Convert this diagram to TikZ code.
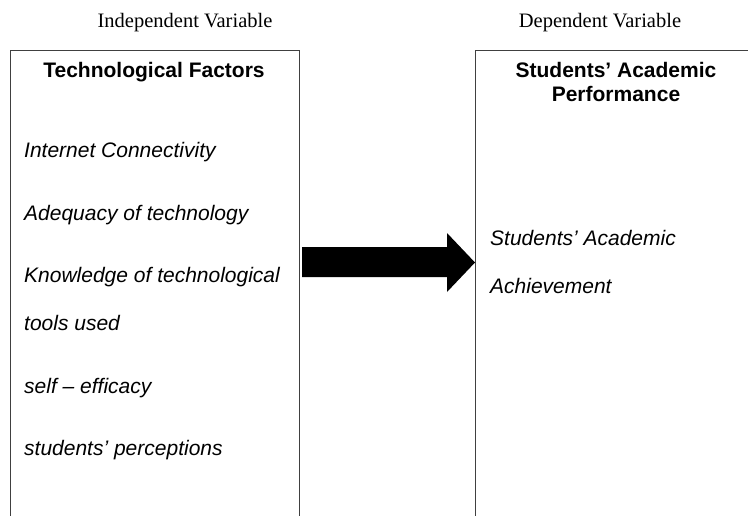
\documentclass[tikz,border=0pt]{standalone}
\usepackage{fontspec}
\setmainfont{Liberation Sans}
\newfontfamily\serifface{Liberation Serif}
\begin{document}
\begin{tikzpicture}[x=1pt,y=-1pt,
  boxline/.style={draw=black!75,line width=1pt},
  heading/.style={font=\serifface\fontsize{20.5}{24}\selectfont,anchor=base,inner sep=0pt},
  title/.style={font=\bfseries\fontsize{21}{24}\selectfont,anchor=base,inner sep=0pt,align=center},
  item/.style={font=\itshape\fontsize{21}{24}\selectfont,anchor=base west,inner sep=0pt},
  bigarrow/.style={fill=black,draw=none}]
\useasboundingbox (0,0) rectangle (748,515);
\fill[white] (0,0) rectangle (748,515);
% headings
\node[heading] (iv) at (185,27) {Independent Variable};
\node[heading] (dv) at (600,27) {Dependent Variable};
% boxes
\coordinate (lbl) at (10,520);
\coordinate (ltl) at (10,50);
\coordinate (ltr) at (299,50);
\coordinate (lbr) at (299,520);
\draw[boxline] (lbl) -- (ltl) -- (ltr) -- (lbr);
\coordinate (rbl) at (475,520);
\coordinate (rtl) at (475,50);
\coordinate (rtr) at (760,50);
\draw[boxline] (rbl) -- (rtl) -- (rtr);
% titles
\node[title] (tf) at (154,77) {Technological Factors};
\node[title] (sa1) at (616,77) {Students’ Academic};
\node[title] (sa2) at (616,101) {Performance};
% items left
\node[item] (i1) at (24,157) {Internet Connectivity};
\node[item] (i2) at (24,220) {Adequacy of technology};
\node[item] (i3) at (24,282) {Knowledge of technological};
\node[item] (i4) at (24,330) {tools used};
\node[item] (i5) at (24,393) {self – efficacy};
\node[item] (i6) at (24,455) {students’ perceptions};
% items right
\node[item] (r1) at (490,245) {Students’ Academic};
\node[item] (r2) at (490,293) {Achievement};
% arrow
\fill[bigarrow] (302,247) -- (447,247) -- (447,233) -- (475,262.5) -- (447,292) -- (447,277) -- (302,277) -- cycle;
\end{tikzpicture}
\end{document}
